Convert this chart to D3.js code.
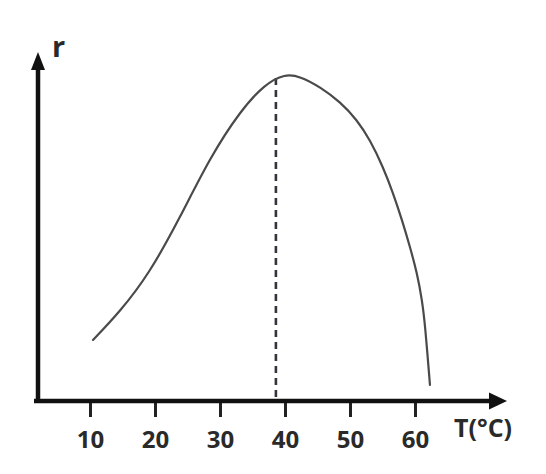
<!DOCTYPE html>
<html>
<head>
<meta charset="utf-8">
<script src="https://cdn.jsdelivr.net/npm/d3@7"></script>
<style>
  html, body { margin: 0; padding: 0; background: #fff; }
  svg { display: block; }
</style>
</head>
<body>
<script>
// Data (r in arbitrary units, T in °C)
const temps = [10.46, 14.6, 19.2, 23.8, 28.5, 33.1, 36.9, 40.0, 42.3, 45.4, 48.5, 51.08, 53.08, 55.08, 56.62, 58.0, 59.23, 60.31, 61.08, 61.54, 62.3];
const rates = [1.74, 2.54, 3.65, 5.21, 6.95, 8.26, 9.03, 9.32, 9.25, 8.95, 8.52, 8.01, 7.44, 6.67, 5.93, 5.16, 4.39, 3.65, 2.88, 2.2, 0.46];
const tickValues = [10, 20, 30, 40, 50, 60];
const optimumT = 38.6;
const optimumR = 9.2;
const xLabel = "T(°C)";
const yLabel = "r";

const W = 546, H = 474;
const svg = d3.select("body").append("svg").attr("width", W).attr("height", H);

const x = d3.scaleLinear().domain([10, 60]).range([90, 415]);
const y = d3.scaleLinear().domain([0, 10]).range([401, 50]);

const axisX0 = 36, axisY0 = y(0);
const fontFam = "'Open Sans', 'DejaVu Sans', sans-serif";

// dashed optimum line
svg.append("line")
  .attr("x1", x(optimumT)).attr("x2", x(optimumT))
  .attr("y1", y(optimumR)).attr("y2", axisY0)
  .attr("stroke", "#33343c").attr("stroke-width", 2.6)
  .attr("stroke-dasharray", "7,5");

// curve
const pts = temps.map((t, i) => [t, rates[i]]);
svg.append("path")
  .datum(pts)
  .attr("fill", "none")
  .attr("stroke", "#4a4a4a")
  .attr("stroke-width", 2.2)
  .attr("stroke-linecap", "round")
  .attr("d", d3.line().x(d => x(d[0])).y(d => y(d[1])).curve(d3.curveBasis));

// x axis ticks + labels
const xAxis = d3.axisBottom(x).tickValues(tickValues).tickSize(16).tickPadding(14).tickSizeOuter(0);
const gx = svg.append("g").attr("transform", `translate(0,${axisY0})`).call(xAxis);
gx.select(".domain").remove();
gx.selectAll(".tick line").attr("stroke", "#222").attr("stroke-width", 3);
gx.selectAll(".tick text")
  .attr("fill", "#2a2a2a")
  .style("font-family", fontFam)
  .style("font-weight", "bold")
  .style("font-size", "24px");

// axis lines
svg.append("line")
  .attr("x1", axisX0 - 2).attr("x2", 495)
  .attr("y1", axisY0).attr("y2", axisY0)
  .attr("stroke", "#111").attr("stroke-width", 4.5);
svg.append("line")
  .attr("x1", axisX0 + 2).attr("x2", axisX0 + 2)
  .attr("y1", axisY0 + 2).attr("y2", 66)
  .attr("stroke", "#111").attr("stroke-width", 4.5);

// arrowheads
svg.append("path")
  .attr("d", `M507,${axisY0} L489,${axisY0 - 8.5} L489,${axisY0 + 8.5} Z`)
  .attr("fill", "#111");
svg.append("path")
  .attr("d", `M${axisX0 + 2},52 L${axisX0 - 5},70 L${axisX0 + 9},70 Z`)
  .attr("fill", "#111");

// axis labels
svg.append("text")
  .attr("x", 454).attr("y", 437)
  .attr("fill", "#2a2a2a")
  .style("font-family", fontFam).style("font-weight", "bold").style("font-size", "25px")
  .text(xLabel);
svg.append("text")
  .attr("x", 52).attr("y", 57)
  .attr("fill", "#2a2a2a")
  .style("font-family", fontFam).style("font-weight", "bold").style("font-size", "29px")
  .text(yLabel);
</script>
</body>
</html>
